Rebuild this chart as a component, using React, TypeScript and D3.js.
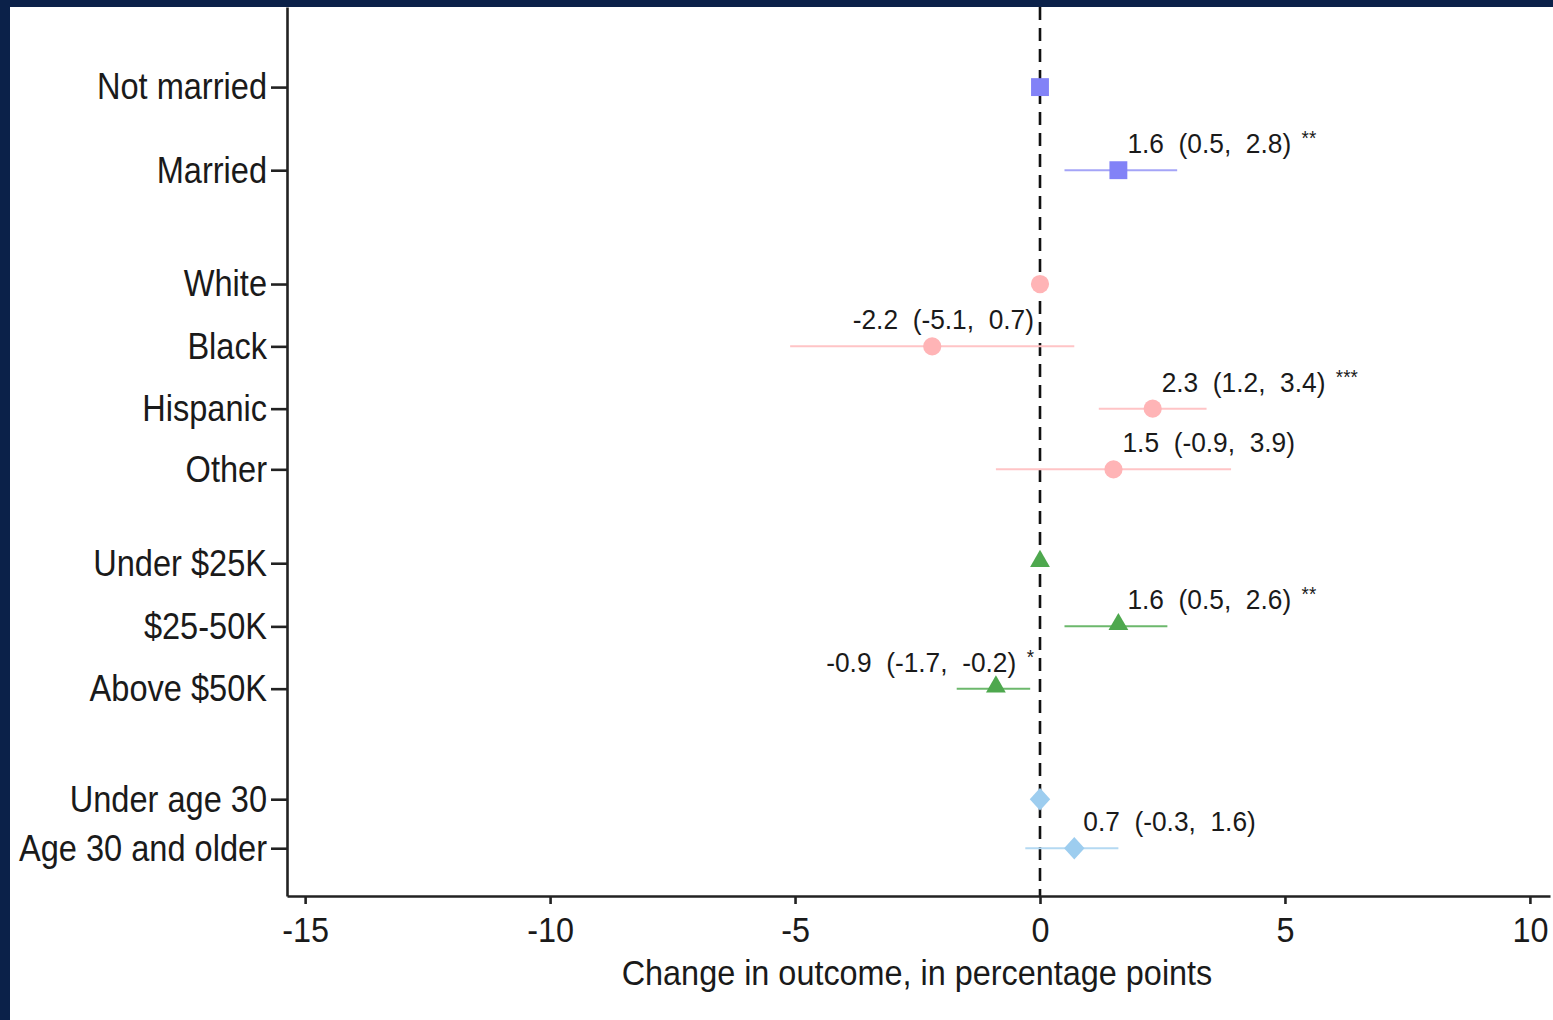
import * as d3 from "d3";
import { useEffect, useRef } from "react";

// rows, top to bottom
const rowLabels = [
  "Not married", "Married",
  "White", "Black", "Hispanic", "Other",
  "Under $25K", "$25-50K", "Above $50K",
  "Under age 30", "Age 30 and older",
];
// vertical slot of each row (groups are spaced apart)
const rowPos = [0, 1, 2.37, 3.12, 3.87, 4.6, 5.73, 6.49, 7.24, 8.57, 9.16];
const groupOf = [0, 0, 1, 1, 1, 1, 2, 2, 2, 3, 3];

const estimates = [0, 1.6, 0, -2.2, 2.3, 1.5, 0, 1.6, -0.9, 0, 0.7];
const ciLow = [null, 0.5, null, -5.1, 1.2, -0.9, null, 0.5, -1.7, null, -0.3];
const ciHigh = [null, 2.8, null, 0.7, 3.4, 3.9, null, 2.6, -0.2, null, 1.6];
const stars = ["", "**", "", "", "***", "", "", "**", "*", "", ""];

const xTicks = [-15, -10, -5, 0, 5, 10];
const xTitle = "Change in outcome, in percentage points";

const groupColors = ["#8282f7", "#ffb4b6", "#4ea84e", "#9dcdef"];
const ciColors = ["#a4a4f7", "#ffc4c6", "#6cb86c", "#b4d9f2"];

const W = 1553;
const H = 1020;
const FONT = "'Liberation Sans', Arial, sans-serif";
const SQUEEZE = 0.9; // narrow look of the original font

// taller-than-wide diamond
const diamond = {
  draw(ctx: any, size: number) {
    const w = Math.sqrt(size / 2.2);
    const h = w * 1.1;
    ctx.moveTo(0, -h);
    ctx.lineTo(w, 0);
    ctx.lineTo(0, h);
    ctx.lineTo(-w, 0);
    ctx.closePath();
  },
};

// horizontally condense text around x = 0 while keeping its anchor
function squeeze(sel: any, k: number) {
  sel.each(function (this: SVGTextElement) {
    const t = d3.select(this);
    const x0 = +(t.attr("x") || 0);
    t.attr("x", x0 / k).attr("transform", `scale(${k},1)`);
  });
}

export default function App() {
  const ref = useRef<SVGSVGElement>(null);

  useEffect(() => {
    const svg = d3.select(ref.current);
    svg.selectAll("*").remove();

    // frame
    svg.append("rect").attr("width", W).attr("height", H).attr("fill", "#0b2149");
    svg.append("rect").attr("x", 10).attr("y", 7).attr("width", W - 10).attr("height", H - 7).attr("fill", "#ffffff");

    const left = 287, right = 1550, top = 7, bottom = 896;

    const x = d3.scaleLinear().domain([-15.37, 10.41]).range([left, right]);
    const y = d3.scaleLinear().domain([-0.964, 9.735]).range([top, bottom]);

    const g = svg.append("g");

    // zero reference line
    g.append("line")
      .attr("x1", x(0)).attr("x2", x(0))
      .attr("y1", top).attr("y2", bottom)
      .attr("stroke", "#111").attr("stroke-width", 2.6)
      .attr("stroke-dasharray", "13,8");

    // x axis
    const xAxis = g.append("g")
      .attr("transform", `translate(0,${bottom})`)
      .call(d3.axisBottom(x).tickValues(xTicks).tickSize(8).tickPadding(12).tickSizeOuter(0).tickFormat(d3.format("d")));
    xAxis.select(".domain").attr("stroke", "#222").attr("stroke-width", 2.6);
    xAxis.selectAll(".tick line").attr("stroke", "#222").attr("stroke-width", 2.6);
    xAxis.selectAll(".tick text")
      .attr("font-family", FONT).attr("font-size", 36).attr("fill", "#1a1a1a")
      .text((d: any) => (d < 0 ? "-" + Math.abs(d) : String(d)));
    squeeze(xAxis.selectAll(".tick text"), SQUEEZE);

    // y axis
    const yAxis = g.append("g")
      .attr("transform", `translate(${left},0)`)
      .call(d3.axisLeft(y).tickValues(rowPos).tickSize(16).tickPadding(4).tickSizeOuter(0)
        .tickFormat((d, i) => rowLabels[i]));
    yAxis.select(".domain").attr("stroke", "#222").attr("stroke-width", 2.6);
    yAxis.selectAll(".tick line").attr("stroke", "#222").attr("stroke-width", 2.6);
    yAxis.selectAll(".tick text")
      .attr("font-family", FONT).attr("font-size", 37).attr("fill", "#1a1a1a");
    squeeze(yAxis.selectAll(".tick text"), 0.88);

    // x title
    const title = g.append("text")
      .attr("x", 917).attr("y", 985)
      .attr("text-anchor", "middle")
      .attr("font-family", FONT).attr("font-size", 36).attr("fill", "#1a1a1a")
      .text(xTitle);
    squeeze(title, SQUEEZE);

    const rows = rowLabels.map((label, i) => ({
      label, i, pos: rowPos[i], est: estimates[i], lo: ciLow[i], hi: ciHigh[i],
      star: stars[i], group: groupOf[i],
    }));

    // CI whiskers
    g.selectAll(".ci")
      .data(rows.filter((r) => r.lo !== null))
      .enter().append("line")
      .attr("x1", (d) => x(d.lo as number)).attr("x2", (d) => x(d.hi as number))
      .attr("y1", (d) => y(d.pos)).attr("y2", (d) => y(d.pos))
      .attr("stroke", (d) => ciColors[d.group]).attr("stroke-width", 2);

    // markers
    const shapes = [
      d3.symbol().type(d3.symbolSquare).size(320),
      d3.symbol().type(d3.symbolCircle).size(260),
      d3.symbol().type(d3.symbolTriangle).size(170),
      d3.symbol().type(diamond as any).size(230),
    ];
    g.selectAll(".pt")
      .data(rows)
      .enter().append("path")
      .attr("transform", (d) => `translate(${x(d.est)},${y(d.pos) - (d.group === 2 ? 2 : 0)})`)
      .attr("d", (d) => shapes[d.group]() as string)
      .attr("fill", (d) => groupColors[d.group]);

    // estimate labels
    const labs = g.selectAll(".lab")
      .data(rows.filter((r) => r.lo !== null))
      .enter().append("text")
      .attr("x", (d) => (d.est < 0 ? x(0) - 6 : x(d.est) + 9))
      .attr("y", (d) => y(d.pos) - 17)
      .attr("text-anchor", (d) => (d.est < 0 ? "end" : "start"))
      .attr("font-family", FONT).attr("font-size", 28).attr("fill", "#1a1a1a")
      .style("white-space", "pre");
    labs.append("tspan")
      .text((d) => `${d.est.toFixed(1)}  (${(d.lo as number).toFixed(1)},  ${(d.hi as number).toFixed(1)})`);
    labs.append("tspan")
      .attr("font-size", 20).attr("dy", -8)
      .text((d) => (d.star ? "  " + d.star : ""));
    squeeze(labs, 0.94);
  }, []);

  return (
    <div style={{ position: "absolute", left: 0, top: 0 }}>
      <svg ref={ref} width={W} height={H} style={{ display: "block" }}></svg>
    </div>
  );
}
